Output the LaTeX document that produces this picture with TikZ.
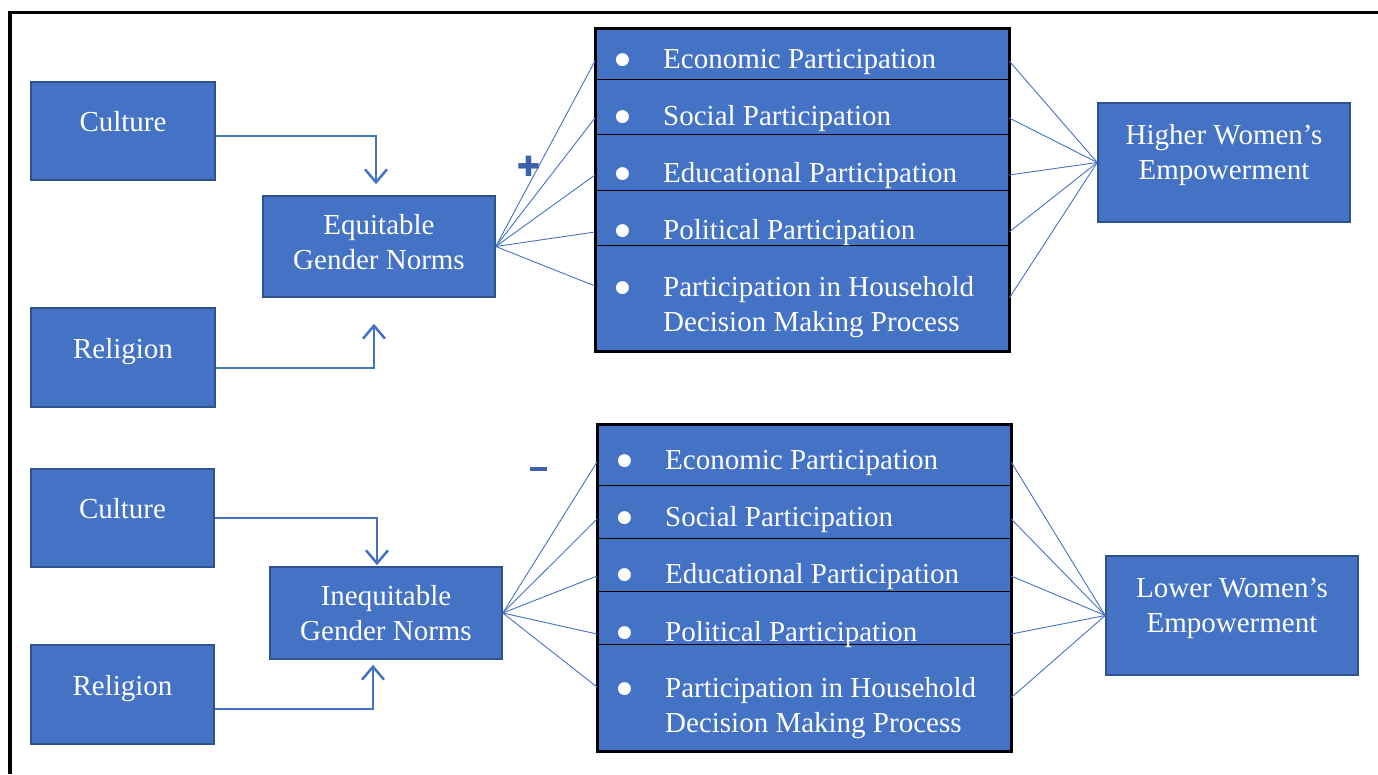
\documentclass[tikz,border=0pt]{standalone}
\usepackage{fontspec}
\setmainfont{Liberation Serif}
\newfontfamily\signfont{DejaVu Sans}
\usetikzlibrary{arrows.meta}
\definecolor{boxblue}{HTML}{4472C4}
\definecolor{boxedge}{HTML}{2F528F}
\definecolor{signblue}{HTML}{3A62AE}
\newcommand\boxfont{\fontsize{29}{35}\selectfont}
\newcommand\itmdot{\raisebox{3.5pt}{\signfont\fontsize{17}{17}\selectfont ●}}
\newcommand\itm[1]{\makebox[68pt][l]{\hspace{20pt}\itmdot}\begin{tabular}[t]{@{}l@{}}#1\end{tabular}}

\begin{document}
\begin{tikzpicture}[x=1pt,y=-1pt,
  box/.style={draw=boxedge,fill=boxblue,line width=1.5pt,text=white,align=center,font=\boxfont,inner sep=0pt},
  lift/.style={text height=20pt,text depth=19pt},
  row/.style={draw=black,line width=1.2pt,fill=boxblue,anchor=north west,minimum width=413pt,inner sep=0pt},
  item/.style={anchor=base west,inner sep=0pt,text=white,font=\boxfont},
  link/.style={draw=boxblue,line width=0.9pt},
  feed/.style={draw=boxblue,line width=1.5pt,-{Straight Barb[length=13pt,width=22pt,line width=2.5pt]}},
  sign/.style={text=signblue,inner sep=0pt}]
\useasboundingbox (0,0) rectangle (1378,774);
\draw[line width=3.5pt] (10,774) -- (10,12.5) -- (1378,12.5);

% equitable norms
\node[box,lift,minimum width=184pt,minimum height=98pt] (cul1) at (123,131) {Culture};
\node[box,lift,minimum width=184pt,minimum height=99pt] (rel1) at (123,357.5) {Religion};
\node[box,text depth=10pt,minimum width=232pt,minimum height=101pt] (egn) at (379,246.5) {Equitable\\Gender Norms};
\node[box,text depth=21pt,minimum width=252pt,minimum height=119pt] (hwe) at (1224,162.5) {Higher Women’s\\Empowerment};

\node[row,minimum height=51pt] (r-eco1) at (595,28) {};
\node[row,minimum height=55pt] (r-soc1) at (595,79) {};
\node[row,minimum height=56pt] (r-edu1) at (595,134) {};
\node[row,minimum height=55pt] (r-pol1) at (595,190) {};
\node[row,minimum height=105pt] (r-hh1) at (595,245) {};
\draw[line width=3pt] (r-eco1.north west) rectangle (r-hh1.south east);
\node[item] (eco1) at (595,68) {\itm{Economic Participation}};
\node[item] (soc1) at (595,125) {\itm{Social Participation}};
\node[item] (edu1) at (595,182) {\itm{Educational Participation}};
\node[item] (pol1) at (595,239) {\itm{Political Participation}};
\node[item] (hh1) at (595,296) {\itm{Participation in Household\\Decision Making Process}};

\draw[feed,shorten >=11pt] ([yshift=-5pt]cul1.east) -| ([xshift=-3pt]egn.north);
\draw[feed,shorten >=26pt] ([yshift=-10.5pt]rel1.east) -| ([xshift=-5pt]egn.south);
\foreach \r in {eco1,soc1,edu1,pol1}{
  \draw[link] (egn.east) -- (\r.west);
  \draw[link] (r-\r.east |- \r) -- (hwe.west);
}
\draw[link] (egn.east) -- ([yshift=10pt]hh1.base west);
\draw[link] (r-hh1.east) -- (hwe.west);
\node[sign,font=\signfont\fontsize{28}{28}\selectfont] (plus) at (528.5,166) {✚};

% inequitable norms
\node[box,lift,minimum width=183pt,minimum height=98pt] (cul2) at (122.5,518) {Culture};
\node[box,lift,minimum width=183pt,minimum height=99pt] (rel2) at (122.5,694.5) {Religion};
\node[box,minimum width=232pt,minimum height=92pt] (ign) at (386,613) {Inequitable\\Gender Norms};
\node[box,text depth=21pt,minimum width=252pt,minimum height=119pt] (lwe) at (1232,615.5) {Lower Women’s\\Empowerment};

\node[row,minimum height=61pt] (r-eco2) at (597,424) {};
\node[row,minimum height=53pt] (r-soc2) at (597,485) {};
\node[row,minimum height=53pt] (r-edu2) at (597,538) {};
\node[row,minimum height=53pt] (r-pol2) at (597,591) {};
\node[row,minimum height=106pt] (r-hh2) at (597,644) {};
\draw[line width=3pt] (r-eco2.north west) rectangle (r-hh2.south east);
\node[item] (eco2) at (597,469) {\itm{Economic Participation}};
\node[item] (soc2) at (597,526) {\itm{Social Participation}};
\node[item] (edu2) at (597,583) {\itm{Educational Participation}};
\node[item] (pol2) at (597,641) {\itm{Political Participation}};
\node[item] (hh2) at (597,697) {\itm{Participation in Household\\Decision Making Process}};

\draw[feed,shorten >=1pt] (cul2.east) -| ([xshift=-9pt]ign.north);
\draw[feed,shorten >=5pt] ([yshift=-14.5pt]rel2.east) -| ([xshift=-13pt]ign.south);
\foreach \r in {eco2,soc2,edu2,pol2}{
  \draw[link] (ign.east) -- (\r.west);
  \draw[link] (r-\r.east |- \r) -- (lwe.west);
}
\draw[link] (ign.east) -- ([yshift=10pt]hh2.base west);
\draw[link] (r-hh2.east) -- (lwe.west);
\node[sign] (minus) at (538.5,469) {\rule{17pt}{4.5pt}};
\end{tikzpicture}
\end{document}
